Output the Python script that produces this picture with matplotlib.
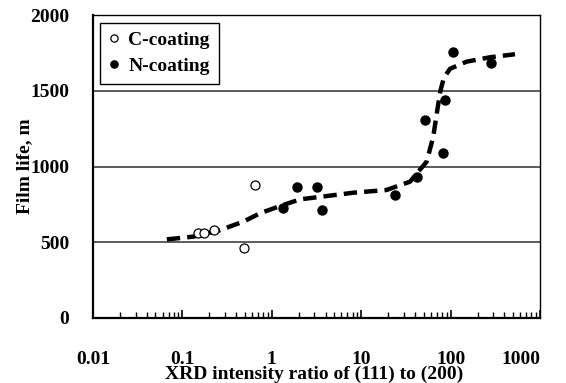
import numpy as np
import matplotlib.pyplot as plt
from matplotlib.ticker import LogLocator, NullFormatter

plt.rcParams['font.family'] = ['Liberation Serif', 'DejaVu Serif']
plt.rcParams['font.weight'] = 'bold'
plt.rcParams['font.size'] = 14

# data
c_ratio = [0.149, 0.175, 0.226, 0.493, 0.649]
c_life = [561, 561, 581, 460, 878]

n_ratio = [1.345, 1.93, 3.18, 3.61, 23.9, 41.8, 51.7, 82.8, 86.6, 105.5, 281]
n_life = [724, 867, 867, 713, 809, 933, 1307, 1087, 1439, 1758, 1685]

fit_ratio = [0.067, 0.132, 0.252, 0.48, 0.738, 1.236, 2.07, 4.11, 8.17, 19.2,
             35.2, 54, 64, 71, 77, 84, 98.5, 151, 276, 525]
fit_life = [519, 537, 576, 636, 691, 739, 783, 805, 827, 845,
            900, 1032, 1197, 1373, 1500, 1585, 1645, 1692, 1721, 1741]

tick_vals = [0.01, 0.1, 1, 10, 100, 1000]
tick_text = ['0.01', '0.1', '1', '10', '100', '1000']

fig = plt.figure(figsize=(5.66, 3.83), dpi=100)
ax = fig.add_axes([93 / 566, 1 - 318 / 383, 447 / 566, 303 / 383])

for yy in [500, 1000, 1500]:
    ax.axhline(yy, color='#404040', lw=1.2, zorder=1)

ax.plot(fit_ratio, fit_life, '--', color='k', lw=3.2, dashes=(3, 1.6), zorder=2)
ax.plot(c_ratio, c_life, 'o', mfc='white', mec='k', mew=0.9, ms=6.5, label='C-coating', zorder=3)
ax.plot(n_ratio, n_life, 'o', mfc='k', mec='k', ms=6.5, label='N-coating', zorder=3)

ax.set_xscale('log')
ax.set_xlim(0.01, 1000)
ax.set_ylim(0, 2000)
ax.set_yticks([0, 500, 1000, 1500, 2000])
ax.set_xticks(tick_vals)
ax.set_xticklabels(tick_text)
ax.get_xticklabels()[-1].set_ha('right')
ax.xaxis.set_minor_locator(LogLocator(base=10, subs=np.arange(2, 10), numticks=20))
ax.xaxis.set_minor_formatter(NullFormatter())
ax.tick_params(axis='x', which='major', direction='in', length=6, width=1.2, pad=23.5)
ax.tick_params(axis='x', which='minor', direction='in', length=4, width=1.0)
ax.tick_params(axis='y', which='major', length=0, pad=17)

for s in ['left', 'bottom']:
    ax.spines[s].set_linewidth(1.6)
for s in ['top', 'right']:
    ax.spines[s].set_linewidth(1.0)

ax.set_xlabel('XRD intensity ratio of (111) to (200)', fontweight='bold')
ax.xaxis.set_label_coords(0.495, -0.157)
ax.set_ylabel('Film life, m', fontweight='bold')
ax.yaxis.set_label_coords(-0.134, 0.5)

leg = ax.legend(loc='upper left', bbox_to_anchor=(0.016, 0.975), fancybox=False,
                edgecolor='k', framealpha=1, markerscale=0.8, handlelength=0.5,
                handletextpad=0.5, borderpad=0.45, labelspacing=0.45, borderaxespad=0)
leg.get_frame().set_linewidth(1.0)

fig.savefig('out.png', dpi=100)
